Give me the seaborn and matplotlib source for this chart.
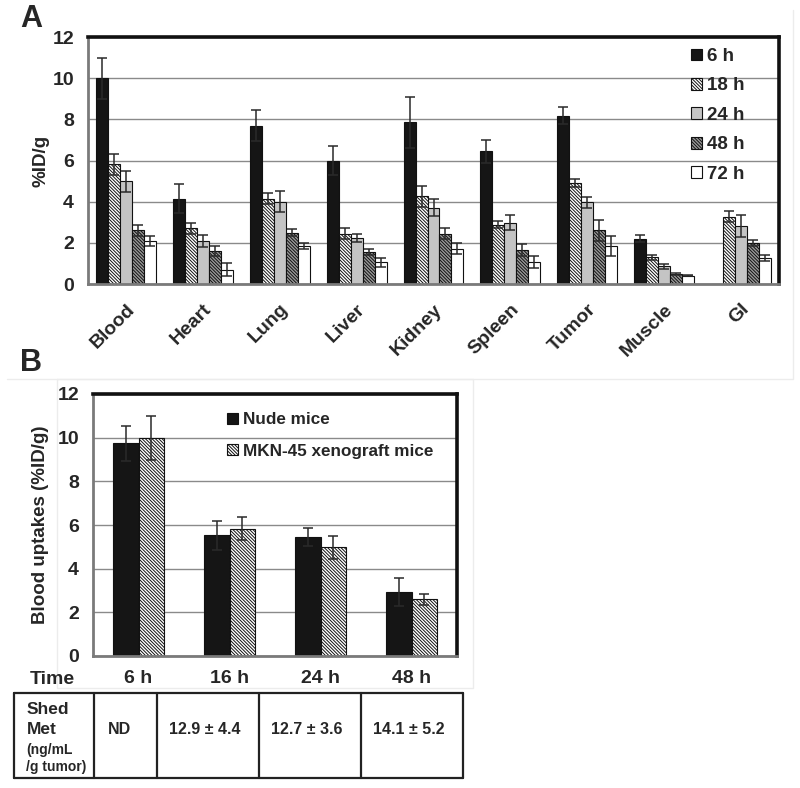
import numpy as np
import pandas as pd
import matplotlib
matplotlib.use("Agg")
import matplotlib.pyplot as plt
from matplotlib.lines import Line2D
import seaborn as sns

sns.set_style("white")
plt.rcParams['font.family'] = ['Liberation Sans', 'DejaVu Sans']
plt.rcParams['font.weight'] = 'bold'
plt.rcParams['hatch.linewidth'] = 0.7

# --- data: panel A, biodistribution (%ID/g) ---
organs = ['Blood', 'Heart', 'Lung', 'Liver', 'Kidney', 'Spleen', 'Tumor', 'Muscle', 'GI']
times_a = ['6 h', '18 h', '24 h', '48 h', '72 h']
val_6h = [10.0, 4.15, 7.7, 6.0, 7.85, 6.45, 8.17, 2.2, 0.0]
val_18h = [5.82, 2.7, 4.15, 2.45, 4.26, 2.89, 4.91, 1.3, 3.26]
val_24h = [4.98, 2.1, 4.0, 2.25, 3.71, 2.98, 3.97, 0.86, 2.82]
val_48h = [2.6, 1.6, 2.5, 1.55, 2.45, 1.64, 2.61, 0.5, 1.99]
val_72h = [2.1, 0.7, 1.85, 1.05, 1.72, 1.07, 1.85, 0.41, 1.27]
err_6h = [1.0, 0.7, 0.75, 0.7, 1.25, 0.55, 0.42, 0.18, 0.0]
err_18h = [0.52, 0.25, 0.28, 0.28, 0.5, 0.15, 0.2, 0.12, 0.27]
err_24h = [0.52, 0.3, 0.5, 0.2, 0.4, 0.37, 0.27, 0.12, 0.55]
err_48h = [0.25, 0.25, 0.15, 0.15, 0.25, 0.3, 0.5, 0.05, 0.16]
err_72h = [0.25, 0.3, 0.15, 0.2, 0.25, 0.3, 0.5, 0.04, 0.16]

# --- data: panel B, blood uptake ---
times_b = ['6 h', '16 h', '24 h', '48 h']
groups_b = ['Nude mice', 'MKN-45 xenograft mice']
nude = [9.75, 5.52, 5.46, 2.92]
nude_err = [0.8, 0.66, 0.4, 0.63]
mkn = [10.0, 5.83, 4.98, 2.6]
mkn_err = [1.0, 0.52, 0.52, 0.25]
shed_met = ['ND', '12.9 ± 4.4', '12.7 ± 3.6', '14.1 ± 5.2']

vals_a = [val_6h, val_18h, val_24h, val_48h, val_72h]
errs_a = [err_6h, err_18h, err_24h, err_48h, err_72h]
df_a = pd.DataFrame({
    'organ': organs * len(times_a),
    'time': np.repeat(times_a, len(organs)),
    'value': np.concatenate(vals_a),
})
df_b = pd.DataFrame({
    'time': times_b * 2,
    'group': np.repeat(groups_b, len(times_b)),
    'value': nude + mkn,
})

W, H = 800, 788
fig = plt.figure(figsize=(8, 7.88), dpi=100)


def px_axes(x0, y0, x1, y1):
    return fig.add_axes([x0 / W, 1 - y1 / H, (x1 - x0) / W, (y1 - y0) / H])


def style_axes(ax, ncat):
    ax.set_ylim(0, 12)
    ax.set_yticks(range(0, 13, 2))
    ax.set_xlim(-0.5, ncat - 0.5)
    ax.yaxis.grid(True, color='#8a8a8a', lw=1)
    ax.set_axisbelow(True)
    for s in ['left', 'bottom']:
        ax.spines[s].set_color('#7a7a7a')
        ax.spines[s].set_linewidth(2)
    for s in ['top', 'right']:
        ax.spines[s].set_color('#111111')
        ax.spines[s].set_linewidth(2.6)
    ax.set_xticks(np.arange(-0.5, ncat, 1.0), minor=True)
    ax.tick_params(axis='x', which='major', length=0)
    ax.tick_params(axis='x', which='minor', length=5, width=1, color='#7a7a7a', direction='out')
    ax.tick_params(axis='y', length=4, width=1, color='#7a7a7a', direction='out', pad=6, labelsize=14)
    ax.set_xlabel('')


def add_errors(ax, vals, errs):
    for cont, v, e in zip(ax.containers, vals, errs):
        xs = [p.get_x() + p.get_width() / 2 for p in cont]
        for x, vv, ee in zip(xs, v, e):
            if vv > 0:
                ax.errorbar(x, vv, yerr=ee, fmt='none', ecolor='#2a2a2a',
                            elinewidth=1.1, capsize=3.5, capthick=1.1)


HATCH = '\\' * 10

# ---------------- panel A ----------------
axA = px_axes(88, 37, 779, 284)
face_a = ['#151515', 'white', '#c4c4c4', '#9a9a9a', 'white']
hatch_a = [None, HATCH, None, HATCH, None]
sns.barplot(data=df_a, x='organ', y='value', hue='time', palette=face_a,
            width=0.78, edgecolor='black', linewidth=0.8, errorbar=None,
            legend=False, saturation=1, ax=axA)
for cont, fc, h in zip(axA.containers, face_a, hatch_a):
    for p in cont:
        p.set_facecolor(fc)
        p.set_edgecolor('#111111')
        if h:
            p.set_hatch(h)
add_errors(axA, vals_a, errs_a)
style_axes(axA, len(organs))
axA.set_ylabel('%ID/g', fontsize=13.5, fontweight='bold', labelpad=2)
axA.set_xticks(range(len(organs)))
axA.set_xticklabels(organs, rotation=45, ha='right', rotation_mode='anchor',
                    fontsize=14, fontweight='bold')
axA.tick_params(axis='x', which='major', pad=12)
axA.legend(handles=[c[0] for c in axA.containers], labels=times_a,
           loc='upper left', bbox_to_anchor=(0.872, 0.955), frameon=False,
           fontsize=13.5, handlelength=0.6, handleheight=0.6,
           handletextpad=0.3, labelspacing=0.66, borderpad=0, borderaxespad=0)

# ---------------- panel B ----------------
axB = px_axes(93, 394, 457, 656)
face_b = ['#151515', 'white']
hatch_b = [None, HATCH]
sns.barplot(data=df_b, x='time', y='value', hue='group', palette=face_b,
            width=0.57, edgecolor='black', linewidth=0.8, errorbar=None,
            legend=False, saturation=1, ax=axB)
for cont, fc, h in zip(axB.containers, face_b, hatch_b):
    for p in cont:
        p.set_facecolor(fc)
        p.set_edgecolor('#111111')
        if h:
            p.set_hatch(h)
add_errors(axB, [nude, mkn], [nude_err, mkn_err])
style_axes(axB, len(times_b))
axB.set_ylabel('Blood uptakes (%ID/g)', fontsize=13.5, fontweight='bold', labelpad=6)
axB.set_xticks(range(len(times_b)))
axB.set_xticklabels(times_b, fontsize=14, fontweight='bold')
axB.tick_params(axis='x', which='major', pad=10)
axB.legend(handles=[c[0] for c in axB.containers], labels=groups_b,
           loc='upper left', bbox_to_anchor=(0.368, 0.93), frameon=False,
           fontsize=12.3, handlelength=0.65, handleheight=0.65,
           handletextpad=0.3, labelspacing=0.95, borderpad=0, borderaxespad=0)
fig.text(30 / W, 1 - 680 / H, 'Time', fontsize=14, fontweight='bold', va='center', ha='left')

# ---------------- table ----------------
axT = px_axes(14, 693, 463, 778)
axT.set_xlim(0, 449)
axT.set_ylim(85, 0)
axT.axis('off')
cols = [0, 80, 143, 245, 347, 449]
for x in cols:
    axT.plot([x, x], [0, 85], color='#222222', lw=1.6, clip_on=False)
for y in [0, 85]:
    axT.plot([0, 449], [y, y], color='#222222', lw=1.6, clip_on=False)
axT.text(13, 17, 'Shed', fontsize=12.5, fontweight='bold', va='center')
axT.text(13, 37, 'Met', fontsize=12.5, fontweight='bold', va='center')
axT.text(12, 57, '(ng/mL', fontsize=10, fontweight='bold', va='center')
axT.text(12, 74, '/g tumor)', fontsize=10, fontweight='bold', va='center')
for i, s in enumerate(shed_met):
    xc = (cols[i + 1] + cols[i + 2]) / 2 - (6 if i == 0 else 3)
    axT.text(xc, 37, s, fontsize=11.5, fontweight='bold', va='center', ha='center')

# faint frames from the original layout
for xs, ys in [([57, 473, 473, 57, 57], [379, 379, 688, 688, 379]),
               ([7, 793, 793], [379, 379, 10])]:
    fig.add_artist(Line2D(np.array(xs) / W, 1 - np.array(ys) / H,
                          transform=fig.transFigure, color='#ececec', lw=1))

fig.text(20 / W, 1 - 19 / H, 'A', fontsize=22, fontweight='bold', va='center')
fig.text(20 / W, 1 - 363 / H, 'B', fontsize=22, fontweight='bold', va='center')

fig.savefig('out.png', dpi=100)
